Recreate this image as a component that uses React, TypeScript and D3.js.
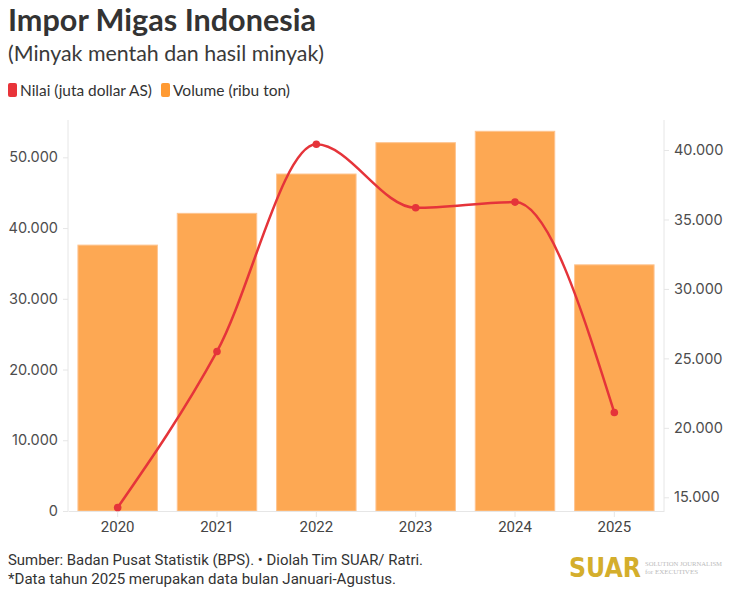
import { useEffect, useRef } from "react"
import * as d3 from "d3"

const years = ["2020", "2021", "2022", "2023", "2024", "2025"]
// Volume (ribu ton), left axis
const volume = [37590, 42080, 47640, 52070, 53680, 34800]
// Nilai (juta dollar AS), right axis
const nilai = [14260, 25500, 40410, 35840, 36250, 21100]

const leftTicks = [0, 10000, 20000, 30000, 40000, 50000]
const rightTicks = [15000, 20000, 25000, 30000, 35000, 40000]

const fmt = (v: number) => d3.format(",")(v).replace(/,/g, ".")

export default function App() {
  const svgRef = useRef<SVGSVGElement>(null)

  useEffect(() => {
    document.body.style.margin = "0"
    if (!svgRef.current) return

    const W = 748
    const H = 604
    const margin = { top: 120, right: 84, bottom: 93, left: 68 }
    const x0 = margin.left
    const x1 = W - margin.right
    const y0 = H - margin.bottom
    const y1 = margin.top

    const svg = d3.select(svgRef.current)
    svg.selectAll("*").remove()

    const sans = "Lato, 'Noto Sans', sans-serif"
    const gray = "#4d4d4d"
    const grid = "#e6e6e6"

    // Title block
    svg.append("text").attr("x", 8).attr("y", 31)
      .style("font-family", sans).style("font-weight", 700).style("font-size", "30px")
      .attr("textLength", 308).attr("lengthAdjust", "spacingAndGlyphs")
      .attr("fill", "#333").text("Impor Migas Indonesia")
    svg.append("text").attr("x", 8).attr("y", 61)
      .style("font-family", sans).style("font-size", "21px")
      .attr("textLength", 316).attr("lengthAdjust", "spacingAndGlyphs")
      .attr("fill", "#3a3a3a").text("(Minyak mentah dan hasil minyak)")

    // Legend
    const legend = [
      { label: "Nilai (juta dollar AS)", color: "#e8343a", x: 8, w: 132 },
      { label: "Volume (ribu ton)", color: "#ff9a33", x: 161, w: 117 },
    ]
    legend.forEach((l) => {
      svg.append("rect").attr("x", l.x).attr("y", 83).attr("width", 9).attr("height", 14)
        .attr("rx", 2).attr("fill", l.color)
      svg.append("text").attr("x", l.x + 12).attr("y", 96)
        .style("font-family", sans).style("font-size", "15px")
        .attr("textLength", l.w).attr("lengthAdjust", "spacingAndGlyphs")
        .attr("fill", "#333").text(l.label)
    })

    // Scales
    const x = d3.scaleBand().domain(years).range([x0, x1]).paddingInner(0.2).paddingOuter(0.1)
    const yL = d3.scaleLinear().domain([0, 55277]).range([y0, y1])
    const yR = d3.scaleLinear().domain([14013, 42161]).range([y0, y1])

    // Frame lines
    const frame = svg.append("g").attr("stroke", grid).attr("stroke-width", 1)
    frame.append("line").attr("x1", x0).attr("x2", x0).attr("y1", y1).attr("y2", y0)
    frame.append("line").attr("x1", x1).attr("x2", x1).attr("y1", y1).attr("y2", y0)

    // Bars
    svg.append("g").selectAll("rect").data(volume).enter().append("rect")
      .attr("x", (_, i) => x(years[i]) || 0)
      .attr("y", (d) => yL(d))
      .attr("width", x.bandwidth())
      .attr("height", (d) => yL(0) - yL(d))
      .attr("fill", "#fda853")
      .attr("stroke", "#fec48f")
      .attr("stroke-width", 1)

    // Axes
    const styleAxis = (g: d3.Selection<SVGGElement, unknown, null, undefined>) => {
      g.select(".domain").attr("stroke", grid)
      g.selectAll(".tick line").attr("stroke", grid)
      g.selectAll(".tick text").attr("fill", gray)
        .style("font-family", "Inter, 'Noto Sans', sans-serif").style("font-size", "14.5px")
    }

    svg.append("g").attr("transform", `translate(${x0},0)`)
      .call(d3.axisLeft(yL).tickValues(leftTicks).tickFormat((d) => fmt(+d)).tickSize(5).tickPadding(5))
      .call((g) => g.select(".domain").remove())
      .call(styleAxis)

    svg.append("g").attr("transform", `translate(${x1},0)`)
      .call(d3.axisRight(yR).tickValues(rightTicks).tickFormat((d) => fmt(+d)).tickSize(5).tickPadding(5))
      .call((g) => g.select(".domain").remove())
      .call(styleAxis)

    svg.append("g").attr("transform", `translate(0,${y0})`)
      .call(d3.axisBottom(x).tickSize(6).tickPadding(4).tickSizeOuter(0))
      .call(styleAxis)
      .call((g) => g.selectAll(".tick text")
        .style("font-family", "Roboto, sans-serif").style("font-size", "15px")
        .attr("fill", "#444"))

    // Line
    const cx = (i: number) => (x(years[i]) || 0) + x.bandwidth() / 2
    const line = d3.line<number>()
      .x((_, i) => cx(i))
      .y((d) => yR(d))
      .curve(d3.curveMonotoneX)

    svg.append("path").datum(nilai).attr("d", line)
      .attr("fill", "none").attr("stroke", "#e5343a").attr("stroke-width", 2.5)

    svg.append("g").selectAll("circle").data(nilai).enter().append("circle")
      .attr("cx", (_, i) => cx(i)).attr("cy", (d) => yR(d)).attr("r", 3.8)
      .attr("fill", "#e5343a")

    // Footer
    const foot = "Roboto, 'Noto Sans', sans-serif"
    svg.append("text").attr("x", 8).attr("y", 565)
      .style("font-family", foot).style("font-size", "15px")
      .attr("textLength", 415).attr("lengthAdjust", "spacingAndGlyphs")
      .attr("fill", "#333").text("Sumber: Badan Pusat Statistik (BPS). • Diolah Tim SUAR/ Ratri.")
    svg.append("text").attr("x", 8).attr("y", 584)
      .style("font-family", foot).style("font-size", "15px")
      .attr("textLength", 388).attr("lengthAdjust", "spacingAndGlyphs")
      .attr("fill", "#333").text("*Data tahun 2025 merupakan data bulan Januari-Agustus.")

    // Logo
    svg.append("text").attr("x", 569).attr("y", 577)
      .style("font-family", "'DejaVu Sans', sans-serif").style("font-weight", 700).style("font-size", "26px")
      .attr("textLength", 72).attr("lengthAdjust", "spacingAndGlyphs")
      .attr("fill", "#d4ae2c").text("SUAR")
    svg.append("text").attr("x", 645).attr("y", 566)
      .style("font-family", "'Liberation Serif', serif").style("font-size", "7px")
      .attr("textLength", 77).attr("lengthAdjust", "spacingAndGlyphs")
      .attr("fill", "#bbb").text("SOLUTION JOURNALISM")
    svg.append("text").attr("x", 645).attr("y", 574)
      .style("font-family", "'Liberation Serif', serif").style("font-size", "7px")
      .attr("fill", "#bbb").text("for EXECUTIVES")
  }, [])

  return <svg ref={svgRef} width={748} height={604} style={{ display: "block", background: "#fff" }} />
}
